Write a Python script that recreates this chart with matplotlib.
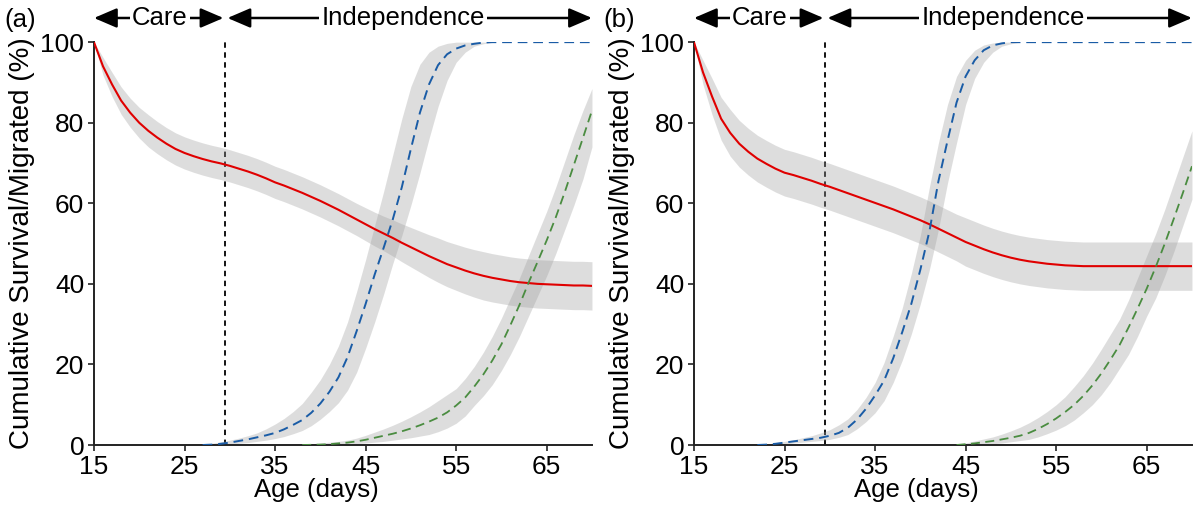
import matplotlib.pyplot as plt
import numpy as np

plt.rcParams["font.family"] = ["Liberation Sans", "DejaVu Sans"]

care_end = 29.5
x_ticks = [15, 25, 35, 45, 55, 65]
y_ticks = [0, 20, 40, 60, 80, 100]

# ---- panel (a) ----
# survival, one value per day from day 15
red_a_start = 15
red_a = [100, 94, 89.5, 85.5, 82.5, 80, 78, 76.3, 74.8, 73.5,
         72.5, 71.7, 71, 70.4, 69.9, 69.3, 68.6, 67.9, 67.1, 66.2,
         65.2, 64.4, 63.5, 62.6, 61.6, 60.6, 59.5, 58.4, 57.2, 56,
         54.8, 53.6, 52.5, 51.4, 50.2, 49.1, 48, 46.9, 45.9, 44.9,
         44.1, 43.3, 42.6, 42, 41.5, 41.1, 40.7, 40.4, 40.2, 40,
         39.9, 39.8, 39.7, 39.6, 39.6, 39.5]
red_a_ci = [0, 2.2, 3, 3.4, 3.6, 3.8, 4, 4, 4, 4,
            4, 4, 4, 4, 4, 4, 4, 4, 4, 4,
            4, 4, 4, 4, 4, 4, 4, 4, 4, 4,
            4.1, 4.2, 4.3, 4.5, 4.7, 4.9, 5.1, 5.3, 5.5, 5.6,
            5.7, 5.8, 5.9, 6, 6, 6, 6, 6, 6, 6,
            6, 6, 6, 6, 6, 6]

# migrated (first group), from day 27
blue_a_start = 27
blue_a = [0, 0.1, 0.3, 0.6, 1.0, 1.4, 1.9, 2.4, 3.0, 3.9,
          5.0, 6.2, 8.0, 10.3, 13.2, 16.8, 21.8, 28.2, 35.0, 42.3,
          49.0, 56.0, 64.0, 73.5, 82.5, 89.5, 94.3, 97.0, 98.4, 99.2,
          99.6, 99.9, 100, 100, 100, 100, 100, 100, 100, 100,
          100, 100, 100, 100]
blue_a_lo = [0, 0, 0.1, 0.2, 0.4, 0.6, 0.9, 1.2, 1.6, 2.1,
             2.8, 3.6, 4.8, 6.4, 8.3, 10.5, 13.6, 18, 24, 30.5,
             37.5, 45, 52, 59.5, 67.5, 76, 84, 90.5, 95, 97.5,
             99, 99.6, 100, 100, 100, 100, 100, 100, 100, 100,
             100, 100, 100, 100]
blue_a_hi = [0.1, 0.4, 0.8, 1.2, 1.7, 2.3, 3.0, 4.0, 5.2, 6.6,
             8.3, 10.3, 13.1, 16.2, 20, 24.6, 30.5, 38, 46, 54.5,
             63, 72, 81, 89, 94.5, 97.5, 99, 99.7, 100, 100,
             100, 100, 100, 100, 100, 100, 100, 100, 100, 100,
             100, 100, 100, 100]

# migrated (second group), from day 38
green_a_start = 38
green_a = [0, 0.05, 0.1, 0.2, 0.4, 0.6, 0.9, 1.3, 1.8, 2.3,
           2.8, 3.4, 4.1, 4.9, 5.8, 6.8, 8.1, 9.8, 11.8, 14.5,
           17.5, 21, 25, 29.8, 34.8, 40.3, 45.5, 50.8, 56.5, 62.8,
           69.5, 76.2, 83]
green_a_lo = [0, 0, 0, 0, 0, 0.1, 0.3, 0.5, 0.7, 0.9,
              1.2, 1.5, 1.8, 2.2, 2.6, 3.3, 4.2, 5.4, 7.2, 9.8,
              12.2, 15, 18.5, 22.5, 27, 32, 37, 42, 47.5, 53.5,
              59.5, 66, 74]
green_a_hi = [0.1, 0.3, 0.5, 0.7, 0.9, 1.2, 1.7, 2.4, 3.2, 4,
              4.9, 5.9, 7, 8.2, 9.5, 11, 12.5, 14, 16.5, 19.5,
              23, 27, 31.5, 36.5, 41.5, 47, 52.5, 58, 64, 70.5,
              77, 83, 88.5]

# ---- panel (b) ----
red_b_start = 15
red_b = [100, 92.5, 86.5, 81, 77.5, 74.8, 72.8, 71.1, 69.8, 68.6,
         67.6, 67, 66.3, 65.6, 64.8, 64.1, 63.3, 62.5, 61.7, 60.9,
         60.1, 59.3, 58.5, 57.6, 56.7, 55.8, 54.8, 53.7, 52.6, 51.5,
         50.4, 49.5, 48.6, 47.8, 47.1, 46.5, 46, 45.6, 45.3, 45,
         44.8, 44.6, 44.5, 44.4, 44.4, 44.4, 44.4, 44.4, 44.4, 44.4,
         44.4, 44.4, 44.4, 44.4, 44.4, 44.4]
red_b_ci = [0, 3, 4.5, 5.3, 5.8, 5.8, 5.8, 5.8, 5.8, 5.8,
            5.8, 5.8, 5.8, 5.8, 5.8, 5.8, 5.8, 5.8, 5.8, 5.8,
            5.8, 5.8, 5.8, 5.8, 5.8, 5.8, 5.8, 5.8, 5.8, 5.8,
            6, 6, 6, 6, 6, 6, 6, 6, 6, 6,
            6, 6, 6, 6, 6, 6, 6, 6, 6, 6,
            6, 6, 6, 6, 6, 6]

blue_b_start = 22
blue_b = [0, 0.1, 0.3, 0.6, 0.9, 1.2, 1.5, 1.8, 2.3, 3,
          4.3, 6.3, 9, 12.3, 16, 21.5, 28, 35, 43.5, 53,
          65.5, 75.5, 85, 91.5, 95.5, 98, 99.2, 99.7, 100, 100,
          100, 100, 100, 100, 100, 100, 100, 100, 100, 100,
          100, 100, 100, 100, 100, 100, 100, 100, 100]
blue_b_lo = [0, 0, 0, 0.2, 0.5, 0.7, 0.9, 1.1, 1.4, 1.9,
             2.6, 4, 5.8, 8, 11, 15.5, 21, 27.5, 35, 43.5,
             53.5, 65, 75, 84.5, 91, 95, 97.5, 99, 99.6, 100,
             100, 100, 100, 100, 100, 100, 100, 100, 100, 100,
             100, 100, 100, 100, 100, 100, 100, 100, 100]
blue_b_hi = [0.1, 0.3, 0.5, 0.9, 1.3, 1.8, 2.3, 3, 3.8, 5,
             6.5, 8.8, 11.8, 15.5, 20.5, 27, 34, 42.5, 52, 64,
             75, 84.5, 91.5, 95.5, 98, 99.3, 99.8, 100, 100, 100,
             100, 100, 100, 100, 100, 100, 100, 100, 100, 100,
             100, 100, 100, 100, 100, 100, 100, 100, 100]

green_b_start = 44
green_b = [0, 0.2, 0.4, 0.7, 1, 1.4, 1.8, 2.3, 3, 4,
           5.2, 6.6, 8.2, 10, 12.2, 14.8, 17.8, 21.2, 24.8, 29.2,
           33.9, 38.8, 44.2, 50, 56.2, 62.6, 69.2]
green_b_lo = [0, 0, 0, 0.1, 0.3, 0.5, 0.8, 1.1, 1.4, 2,
              2.8, 3.7, 4.8, 6.2, 8, 10, 12.5, 15.5, 19, 22.5,
              27, 32, 36.5, 42, 48, 54.5, 61]
green_b_hi = [0.2, 0.5, 1, 1.5, 2, 2.7, 3.5, 4.4, 5.5, 6.8,
              8.3, 10, 12, 14.5, 17.2, 20.3, 23.8, 27.5, 31.2, 36,
              41.5, 47, 52.5, 58.5, 65, 71.5, 78]

red_color = "#e00000"
blue_color = "#1a5ca6"
green_color = "#4a8c40"
band_color = "#a0a0a0"


def days(start, values):
    return np.arange(start, start + len(values))


def panel(ax, red_start, red, red_ci, blue_start, blue, blue_lo, blue_hi,
          green_start, green, green_lo, green_hi):
    ax.axvline(care_end, color="black", linestyle=(0, (3, 2.5)), linewidth=1.3, zorder=1)

    red = np.array(red, dtype=float)
    red_ci = np.array(red_ci, dtype=float)
    x = days(red_start, red)
    ax.fill_between(x, red - red_ci, red + red_ci, color=band_color, alpha=0.35, linewidth=0, zorder=2)
    ax.fill_between(days(blue_start, blue), blue_lo, blue_hi, color=band_color, alpha=0.35, linewidth=0, zorder=2)
    ax.fill_between(days(green_start, green), green_lo, green_hi, color=band_color, alpha=0.35, linewidth=0, zorder=2)

    ax.plot(x, red, color=red_color, linewidth=1.5, zorder=3)
    ax.plot(days(blue_start, blue), blue, color=blue_color, linewidth=1.4, dashes=(5, 3), zorder=3)
    ax.plot(days(green_start, green), green, color=green_color, linewidth=1.3, dashes=(5, 3), zorder=3)

    ax.set_xlim(15, 70)
    ax.set_ylim(0, 100)
    ax.set_xticks(x_ticks)
    ax.set_yticks(y_ticks)
    for side in ["top", "right"]:
        ax.spines[side].set_visible(False)
    for side in ["left", "bottom"]:
        ax.spines[side].set_linewidth(1.4)
        ax.spines[side].set_color("#222222")
    ax.tick_params(direction="out", length=4, width=1.2, labelsize=19, colors="#222222",
                   labelcolor="black")
    ax.tick_params(axis="x", pad=3)
    ax.tick_params(axis="y", pad=3)
    ax.set_xlabel("Age (days)", fontsize=18.5)
    ax.set_ylabel("Cumulative Survival/Migrated (%)", fontsize=20)
    ax.xaxis.set_label_coords(0.446, -0.082)
    ax.yaxis.set_label_coords(-0.118, 0.5)

    # care / independence arrows above the plot
    arrow = dict(arrowstyle="<|-|>,head_length=0.7,head_width=0.3", color="black",
                 linewidth=1.8, mutation_scale=20, shrinkA=0, shrinkB=0)
    tr = ax.get_xaxis_transform()
    ax.annotate("", xy=(15, 1.06), xytext=(care_end - 0.2, 1.06), xycoords=tr,
                textcoords=tr, arrowprops=arrow, annotation_clip=False)
    ax.annotate("", xy=(care_end + 0.25, 1.06), xytext=(70, 1.06), xycoords=tr,
                textcoords=tr, arrowprops=arrow, annotation_clip=False)
    box = dict(facecolor="white", edgecolor="none", pad=1.5)
    ax.text((15 + care_end) / 2, 1.06, "Care", transform=tr, ha="center", va="center",
            fontsize=18.5, bbox=box, zorder=5)
    ax.text((care_end + 70) / 2 - 0.6, 1.06, "Independence", transform=tr, ha="center",
            va="center", fontsize=18.5, bbox=box, zorder=5)


def main():
    fig = plt.figure(figsize=(12, 5.08), dpi=100)
    ax_a = fig.add_axes([0.0783, 0.124, 0.415, 0.793])
    ax_b = fig.add_axes([0.5783, 0.124, 0.415, 0.793])

    panel(ax_a, red_a_start, red_a, red_a_ci, blue_a_start, blue_a, blue_a_lo, blue_a_hi,
          green_a_start, green_a, green_a_lo, green_a_hi)
    panel(ax_b, red_b_start, red_b, red_b_ci, blue_b_start, blue_b, blue_b_lo, blue_b_hi,
          green_b_start, green_b, green_b_lo, green_b_hi)

    fig.text(0.004, 0.961, "(a)", fontsize=18.5, va="center")
    fig.text(0.503, 0.961, "(b)", fontsize=18.5, va="center")

    fig.savefig("out.png", dpi=100)


if __name__ == "__main__":
    main()
